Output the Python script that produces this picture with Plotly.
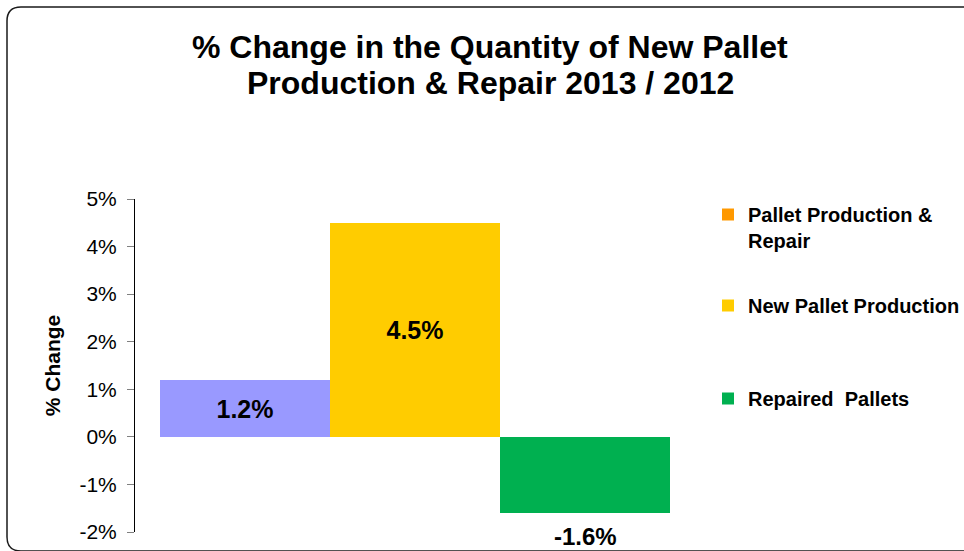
import plotly.graph_objects as go

# Series, values and colours
series = ["Pallet Production & Repair", "New Pallet Production", "Repaired  Pallets"]
legend_labels = ["Pallet Production &<br>Repair", "New Pallet Production", "Repaired  Pallets"]
values = [1.2, 4.5, -1.6]
bar_colors = ["#9999FF", "#FFCC00", "#00B050"]
legend_colors = ["#FF9900", "#FFCC00", "#00B050"]
y_ticks = [-2, -1, 0, 1, 2, 3, 4, 5]
y_tick_text = [f"{v}%" for v in y_ticks]
title_lines = ["% Change in the Quantity of New Pallet", "Production & Repair 2013 / 2012"]

W, H = 964, 551
ML, MR, MT, MB = 135, 269, 199, 19
FONT = "Liberation Sans, Arial, sans-serif"


def px_to_paper(px, py):
    pw, ph = W - ML - MR, H - MT - MB
    return (px - ML) / pw, (H - MB - py) / ph


fig = go.Figure()

# bars: one category per series, drawn side by side
for name, val, col in zip(series, values, bar_colors):
    inside = val >= 0
    fig.add_trace(go.Bar(
        x=[name], y=[val], marker=dict(color=col, line=dict(width=0)),
        texttemplate="%{y:.1f}%" if inside else None,
        textposition="inside" if inside else "none",
        insidetextanchor="middle",
        textfont=dict(family=FONT, size=25, color="black", weight="bold"),
        showlegend=False, hoverinfo="skip",
    ))

# legend entries (square swatches), each in its own legend box
legend_ids = ["legend", "legend2", "legend3"]
for lbl, col, lid in zip(legend_labels, legend_colors, legend_ids):
    fig.add_trace(go.Scatter(
        x=[None], y=[None], mode="markers", name=lbl, legend=lid,
        marker=dict(symbol="square", size=12, color=col, line=dict(width=0)),
    ))

# label under the negative bar
for name, val in zip(series, values):
    if val < 0:
        fig.add_annotation(
            x=name, y=val, xref="x", yref="y", text=f"{val:.1f}%",
            showarrow=False, yanchor="top", yshift=-8,
            font=dict(family=FONT, size=24, color="black", weight="bold"),
        )

# two-line heading
for line, cy in zip(title_lines, [47, 83]):
    tx, ty = px_to_paper(490, cy)
    fig.add_annotation(
        x=tx, y=ty, xref="paper", yref="paper", text=line, showarrow=False,
        xanchor="center", yanchor="middle",
        font=dict(family=FONT, size=32, color="black", weight="bold"),
    )

# rounded outer frame (right and bottom edges run past the page)
r = 14
x0, y0, x1, y1 = 7, 7, 985, 551
p = lambda x, y: "{:.5f},{:.5f}".format(*px_to_paper(x, y))
path = (f"M{p(x1, y0)} L{p(x0 + r, y0)} Q{p(x0, y0)} {p(x0, y0 + r)} "
        f"L{p(x0, y1 - r)} Q{p(x0, y1)} {p(x0 + r, y1)} L{p(x1, y1)}")
fig.add_shape(type="path", path=path, xref="paper", yref="paper",
              line=dict(color="#1a1a1a", width=1.5), layer="below")

legend_common = dict(
    xref="container", yref="container", xanchor="left", yanchor="top",
    font=dict(family=FONT, size=20, color="black", weight="bold"),
    bgcolor="rgba(0,0,0,0)", valign="top", itemwidth=30,
)
leg_x = 708 / W
fig.update_layout(
    width=W, height=H,
    margin=dict(l=ML, r=MR, t=MT, b=MB, autoexpand=False),
    paper_bgcolor="white", plot_bgcolor="white",
    barmode="overlay", bargap=0,
    xaxis=dict(visible=False, range=[-0.647, 2.647], type="category"),
    yaxis=dict(
        range=[-2, 5], tickvals=y_ticks, ticktext=y_tick_text,
        showgrid=False, zeroline=False,
        showline=True, linecolor="black", linewidth=1,
        ticks="outside", ticklen=7, tickcolor="#808080", tickwidth=1,
        ticklabelstandoff=6,
        tickfont=dict(family=FONT, size=21, color="black"),
        title=dict(text="% Change", standoff=13,
                   font=dict(family=FONT, size=21, color="black", weight="bold")),
    ),
    legend=dict(x=leg_x, y=1 - 195 / H, **legend_common),
    legend2=dict(x=leg_x, y=1 - 286 / H, **legend_common),
    legend3=dict(x=leg_x, y=1 - 379 / H, **legend_common),
)

fig.write_html("out.html")
